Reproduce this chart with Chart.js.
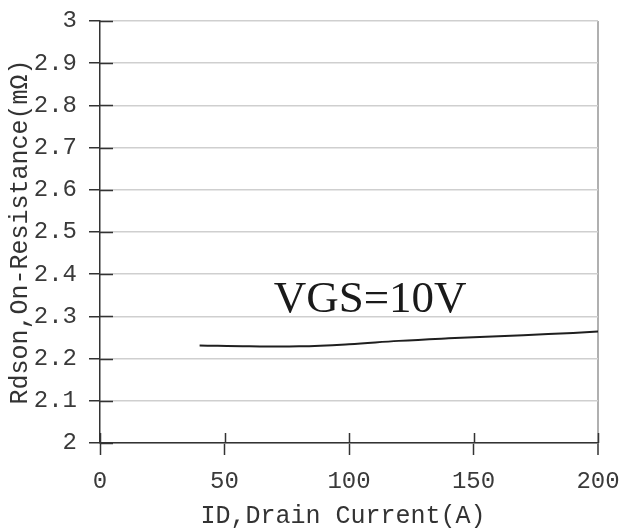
<!DOCTYPE html>
<html lang="en">
<head>
    <meta charset="UTF-8">
    <title>Rdson vs Drain Current</title>
    <script src="https://cdn.jsdelivr.net/npm/chart.js"></script>
    <style>
        html, body { margin: 0; padding: 0; background: #fff; }
        #wrap { width: 621px; height: 529px; }
    </style>
</head>
<body>
    <div id="wrap"><canvas id="rdsonChart" width="621" height="529"></canvas></div>

    <script>
        // curve values: drain current (A) -> on-resistance (mOhm)
        const drainCurrent = [40, 60, 80, 100, 120, 140, 160, 180, 200];
        const rdsonValues = [2.231, 2.229, 2.229, 2.234, 2.242, 2.248, 2.253, 2.258, 2.264];

        const xTicks = [0, 50, 100, 150, 200];
        const yTicks = [2, 2.1, 2.2, 2.3, 2.4, 2.5, 2.6, 2.7, 2.8, 2.9, 3];

        const xTitle = 'ID,Drain Current(A)';
        const yTitle = 'Rdson,On-Resistance(mΩ)';
        const curveLabel = 'VGS=10V';
        const curveLabelAt = [108.5, 2.31];

        const monoFont = '"Liberation Mono", "DejaVu Sans Mono", monospace';
        const axisColor = '#333';

        // tick marks that cross into the plot + axis titles + curve label
        const extras = {
            id: 'extras',
            afterDraw(chart) {
                const ctx = chart.ctx;
                const xs = chart.scales.x, ys = chart.scales.y;
                const area = chart.chartArea;
                ctx.save();
                ctx.strokeStyle = axisColor;
                ctx.lineWidth = 1.5;
                ctx.beginPath();
                xTicks.forEach(v => {
                    const px = Math.round(xs.getPixelForValue(v)) + 0.5;
                    ctx.moveTo(px, area.bottom);
                    ctx.lineTo(px, area.bottom - 10);
                });
                yTicks.forEach(v => {
                    const py = Math.round(ys.getPixelForValue(v)) + 0.5;
                    ctx.moveTo(area.left, py);
                    ctx.lineTo(area.left + 13, py);
                });
                ctx.stroke();

                ctx.fillStyle = '#333';
                ctx.font = '25px ' + monoFont;
                ctx.textAlign = 'center';
                ctx.textBaseline = 'middle';
                ctx.fillText(xTitle, (area.left + area.right) / 2 - 6, 516);

                ctx.translate(20, (area.top + area.bottom) / 2);
                ctx.rotate(-Math.PI / 2);
                ctx.fillText(yTitle, 0, 0);
                ctx.setTransform(1, 0, 0, 1, 0, 0);

                ctx.fillStyle = '#1a1a1a';
                ctx.font = '45px "Liberation Serif", "Times New Roman", serif';
                ctx.textBaseline = 'alphabetic';
                ctx.fillText(curveLabel, xs.getPixelForValue(curveLabelAt[0]), ys.getPixelForValue(curveLabelAt[1]));
                ctx.restore();
            }
        };

        const points = drainCurrent.map((x, i) => ({ x: x, y: rdsonValues[i] }));

        new Chart(document.getElementById('rdsonChart'), {
            type: 'line',
            data: {
                datasets: [{
                    label: curveLabel,
                    data: points,
                    borderColor: '#1f1f1f',
                    borderWidth: 2,
                    pointRadius: 0,
                    tension: 0.4,
                    fill: false
                }]
            },
            options: {
                responsive: false,
                animation: false,
                devicePixelRatio: 1,
                layout: { padding: { top: 21, right: 23, left: 0, bottom: 0 } },
                plugins: {
                    legend: { display: false },
                    tooltip: { enabled: false }
                },
                scales: {
                    x: {
                        type: 'linear',
                        min: 0,
                        max: 200,
                        afterFit(scale) {
                            scale.height = 86;
                            scale.paddingLeft = 0;
                            scale.paddingRight = 0;
                        },
                        afterBuildTicks(scale) { scale.ticks = xTicks.map(v => ({ value: v })); },
                        border: { display: true, color: axisColor, width: 1.5 },
                        grid: {
                            color: c => (c.tick && c.tick.value === 200) ? '#b0b0b0' : 'rgba(0,0,0,0)',
                            lineWidth: c => (c.tick && c.tick.value === 200) ? 2 : 1,
                            tickColor: axisColor,
                            tickLength: 12,
                            tickWidth: 1.5
                        },
                        ticks: {
                            color: '#3a3a3a',
                            font: { family: monoFont, size: 24 },
                            padding: 12,
                            maxRotation: 0
                        }
                    },
                    y: {
                        type: 'linear',
                        min: 2,
                        max: 3,
                        afterFit(scale) {
                            scale.width = 100;
                            scale.paddingTop = 0;
                            scale.paddingBottom = 0;
                        },
                        afterBuildTicks(scale) { scale.ticks = yTicks.map(v => ({ value: v })); },
                        border: { display: true, color: axisColor, width: 1.5 },
                        grid: {
                            color: '#cfcfcf',
                            lineWidth: 1.5,
                            tickColor: axisColor,
                            tickLength: 11,
                            tickWidth: 1.5
                        },
                        ticks: {
                            color: '#3a3a3a',
                            font: { family: monoFont, size: 24 },
                            padding: 12,
                            callback: v => (Math.round(v * 10) / 10).toString()
                        }
                    }
                }
            },
            plugins: [extras]
        });
    </script>
</body>
</html>
